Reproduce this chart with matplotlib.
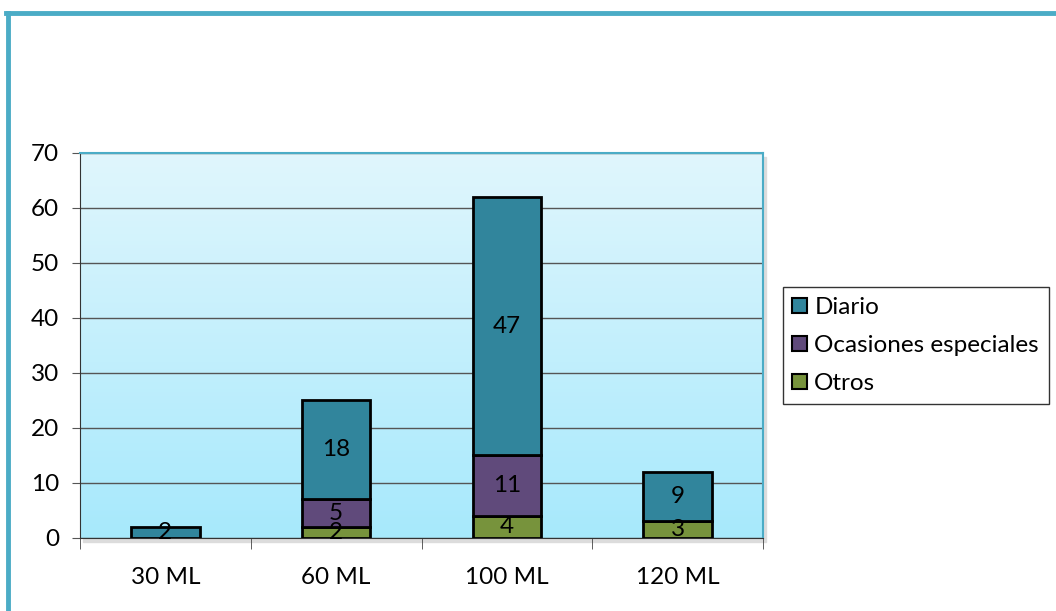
import numpy as np
import matplotlib.pyplot as plt
from matplotlib.patches import Rectangle

plt.rcParams['font.family'] = ['Lato', 'DejaVu Sans']

# datos
categorias = ['30 ML', '60 ML', '100 ML', '120 ML']
otros = [0, 2, 4, 3]
ocasiones = [0, 5, 11, 0]
diario = [2, 18, 47, 9]

series = [
    ('Otros', otros, '#77933C'),
    ('Ocasiones especiales', ocasiones, '#604A7B'),
    ('Diario', diario, '#31859C'),
]

FS = 17.5

fig = plt.figure(figsize=(10.56, 6.11), dpi=100)
ax = fig.add_axes([0.0758, 0.1195, 0.6467, 0.6301])

# marco exterior (izquierda y arriba)
fig.add_artist(plt.Line2D([0.0076, 0.0076], [0.0, 0.9795], color='#4BACC6', lw=3.5,
                          transform=fig.transFigure))
fig.add_artist(plt.Line2D([0.0055, 1.0], [0.9795, 0.9795], color='#4BACC6', lw=3.5,
                          transform=fig.transFigure))

# sombra del área de trazado
fig.add_artist(Rectangle((0.0758 + 0.003, 0.1195 - 0.006), 0.6467, 0.6301,
                         transform=fig.transFigure, color='#dcdcdc', zorder=0))

# fondo degradado
grad = np.linspace(0, 1, 256).reshape(-1, 1)
top = np.array([0.878, 0.965, 0.992])
bottom = np.array([0.655, 0.914, 0.988])
img = top + (bottom - top) * grad[:, :, None] * np.ones((1, 1, 3))
ax.imshow(img, extent=[0, 1, 0, 1], transform=ax.transAxes, aspect='auto', zorder=0)

x = np.arange(len(categorias))
width = 0.4
base = np.zeros(len(categorias))
handles = {}
for nombre, vals, color in series:
    vals = np.array(vals, dtype=float)
    for i, v in enumerate(vals):
        if v == 0:
            continue
        b = ax.bar(x[i], v, width, bottom=base[i], color=color, edgecolor='black',
                   linewidth=2, zorder=3)
        handles[nombre] = b
        ax.text(x[i], base[i] + v / 2, f'{int(v)}', ha='center', va='center',
                fontsize=FS, color='black', zorder=4)
    base += vals

ax.set_xlim(-0.5, len(categorias) - 0.5)
ax.set_ylim(0, 70)
ax.set_yticks(range(0, 71, 10))
ax.yaxis.grid(True, color='#555555', lw=1)
ax.set_axisbelow(True)

ax.set_xticks(x)
ax.set_xticklabels(categorias, fontsize=FS)
ax.set_xticks(np.arange(-0.5, len(categorias), 1), minor=True)
ax.tick_params(axis='x', which='major', length=0, pad=21)
ax.tick_params(axis='x', which='minor', length=8, color='#444444', direction='out')
ax.tick_params(axis='y', length=6, color='#555555', labelsize=FS, pad=9)

for s in ['top', 'right']:
    ax.spines[s].set_color('#4BACC6')
    ax.spines[s].set_linewidth(1.5)
ax.spines['left'].set_color('#333333')
ax.spines['bottom'].set_color('#333333')

leg = ax.legend([handles['Diario'], handles['Ocasiones especiales'], handles['Otros']],
                ['Diario', 'Ocasiones especiales', 'Otros'],
                loc='center left', bbox_to_anchor=(1.029, 0.5), fontsize=FS,
                frameon=True, fancybox=False, edgecolor='black', handlelength=0.6,
                handleheight=0.6, handletextpad=0.3, labelspacing=0.7,
                borderpad=0.4, borderaxespad=0)
leg.get_frame().set_linewidth(1)
for h in leg.legend_handles:
    h.set_linewidth(1.5)

fig.savefig('out.png', dpi=100)
